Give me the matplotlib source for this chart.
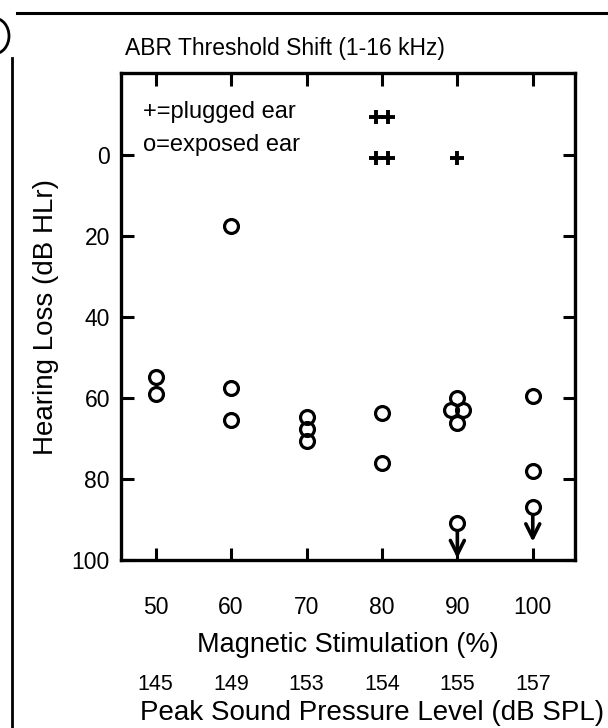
import matplotlib
matplotlib.use("Agg")
import matplotlib.pyplot as plt
import matplotlib.transforms as mtransforms
from matplotlib.patches import Circle
from matplotlib.lines import Line2D

plt.rcParams['font.family'] = ['Liberation Sans', 'DejaVu Sans']

# data
stim_levels = [50, 60, 70, 80, 90, 100]
spl_labels = ['145', '149', '153', '154', '155', '157']
hl_ticks = [0, 20, 40, 60, 80, 100]

# exposed ear (circles); the 90% cluster is spread sideways in the original
exposed_x = [50, 50, 60, 60, 60, 70, 70, 70, 80, 80,
             90, 89.2, 90.8, 90, 90, 100, 100, 100]
exposed_y = [54.7, 59.0, 17.4, 57.5, 65.5, 64.6, 67.6, 70.7, 63.8, 76.0,
             59.9, 63.0, 63.0, 66.2, 90.8, 59.4, 78.0, 86.8]

# plugged ear (pluses)
plugged_x = [79.2, 80.8, 79.2, 80.8, 90]
plugged_y = [-9.4, -9.4, 0.7, 0.7, 0.7]

# points that are lower bounds (arrow pointing down)
arrow_x = [90, 100]
arrow_from = [92.8, 88.9]
arrow_to = [99.6, 95.5]

W, H = 608, 728
fig = plt.figure(figsize=(6.08, 7.28), dpi=100)
ax = fig.add_axes([121 / W, 1 - 560 / H, 454 / W, 487 / H])

ax.plot(exposed_x, exposed_y, 'o', ms=10, mfc='none', mec='black', mew=2.3)
ax.plot(plugged_x, plugged_y, '+', ms=9.5, mec='black', mew=2.8)
for x, y0, y1 in zip(arrow_x, arrow_from, arrow_to):
    ax.annotate('', xy=(x, y1), xytext=(x, y0),
                arrowprops=dict(arrowstyle='->,head_length=0.5,head_width=0.25',
                                mutation_scale=20, lw=2.6, color='black',
                                shrinkA=0, shrinkB=0))

ax.set_xlim(45.4, 105.6)
ax.set_ylim(99.6, -20.3)
ax.set_xticks(stim_levels)
ax.set_yticks(hl_ticks)

for s in ax.spines.values():
    s.set_linewidth(2.4)
ax.tick_params(direction='in', length=9, width=2.2, top=True, right=True,
               labelsize=16.5)
ax.tick_params(axis='x', pad=26)
ax.tick_params(axis='y', pad=8)

ax.set_ylabel('Hearing Loss (dB HLr)', fontsize=20)
ax.yaxis.set_label_coords((59 - 121) / 454, 0.5)
ax.set_xlabel('Magnetic Stimulation (%)', fontsize=19.5, va='center')
ax.xaxis.set_label_coords(0.5, (560 - 645) / 487)

# second row of x labels: peak sound pressure level
trans = mtransforms.blended_transform_factory(ax.transData, fig.transFigure)
for x, lab in zip(stim_levels, spl_labels):
    ax.text(x, 1 - 685 / H, lab, transform=trans, ha='center', va='center',
            fontsize=15.5)
fig.text(372 / W, 1 - 713 / H, 'Peak Sound Pressure Level (dB SPL)',
         ha='center', va='center', fontsize=20)

fig.text(143 / W, 1 - 112 / H, '+=plugged ear', ha='left', va='center',
         fontsize=17)
fig.text(143 / W, 1 - 145 / H, 'o=exposed ear', ha='left', va='center',
         fontsize=17)

fig.text(125 / W, 1 - 48 / H, 'ABR Threshold Shift (1-16 kHz)', ha='left',
         va='center', fontsize=16.5)

# page border lines and cut-off panel letter from the scan
fig.add_artist(Line2D([17 / W, 1], [1 - 13 / H, 1 - 13 / H], color='black',
                      lw=2.2, transform=fig.transFigure))
fig.add_artist(Line2D([12 / W, 12 / W], [1 - 58 / H, 0], color='black',
                      lw=2.0, transform=fig.transFigure))
fig.add_artist(Circle((-6 / W, 1 - 36 / H), 15 / W, transform=fig.transFigure,
                      fill=False, lw=2.0, color='black'))

fig.savefig('out.png', dpi=100)
